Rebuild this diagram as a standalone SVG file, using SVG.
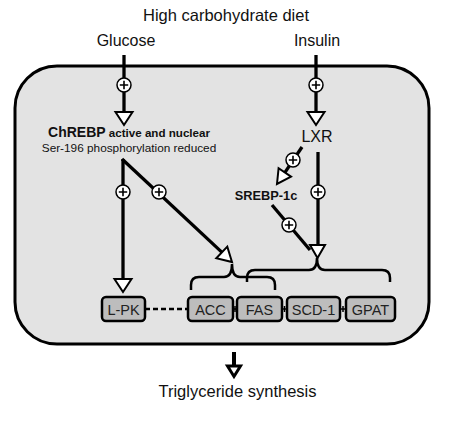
<svg xmlns="http://www.w3.org/2000/svg" width="453" height="423" viewBox="0 0 453 423">
<style>
.t{font-family:"Liberation Sans",Arial,sans-serif;fill:#111}
.ln{stroke:#000;stroke-width:3.3;fill:none;stroke-linecap:butt}
.ah{fill:#fff;stroke:#000;stroke-width:2;stroke-linejoin:miter}
.pc{fill:#fff;stroke:#000;stroke-width:1.5}
.pl{stroke:#000;stroke-width:1.6}
.box{fill:#bdbdbd;stroke:#000;stroke-width:2.5}
.bt{font-family:"Liberation Sans",Arial,sans-serif;font-size:14.5px;fill:#222;text-anchor:middle}
</style>
<defs>
<g id="plus"><circle r="7" class="pc"/><path d="M-4.2,0H4.2M0,-4.2V4.2" class="pl"/></g>
</defs>
<rect id="cell" x="15" y="66" width="414" height="278" rx="42" fill="#e3e3e3" stroke="#000" stroke-width="3"/>
<text class="t" x="226" y="21" font-size="16.5" text-anchor="middle">High carbohydrate diet</text>
<g id="glucose"><text class="t" x="126" y="46" font-size="16" text-anchor="middle">Glucose</text></g>
<g id="insulin"><text class="t" x="317" y="46" font-size="16" text-anchor="middle">Insulin</text></g>
<g id="chrebp"><text class="t" x="129" y="137" font-weight="bold" text-anchor="middle"><tspan font-size="14">ChREBP</tspan><tspan font-size="11.6"> active and nuclear</tspan></text>
<text class="t" x="129" y="152" font-size="11.8" text-anchor="middle">Ser-196 phosphorylation reduced</text></g>
<g id="lxr"><text class="t" x="317" y="142" font-size="16" text-anchor="middle">LXR</text></g>
<g id="srebp"><text class="t" x="266" y="200" font-size="12.8" font-weight="bold" text-anchor="middle">SREBP-1c</text></g>
<g id="connectors">
<path class="ln" d="M124,55V112"/>
<polygon class="ah" points="115.5,112 132.5,112 124,125"/>
<use href="#plus" x="124" y="85"/>
<path class="ln" d="M316,55V112"/>
<polygon class="ah" points="307.5,112 324.5,112 316,125"/>
<use href="#plus" x="316" y="85"/>
<path class="ln" d="M123,159V279"/>
<polygon class="ah" points="114.5,279 131.5,279 123,292"/>
<use href="#plus" x="123" y="192"/>
<path class="ln" d="M122,159L222,252.4"/>
<polygon class="ah" points="216.3,258.2 227.3,246.6 232,262"/>
<use href="#plus" x="159" y="192"/>
<path class="ln" d="M318,152V246"/>
<path class="ln" d="M272,205L310,250"/>
<polygon class="ah" points="310,245 325,245 317.5,258"/>
<use href="#plus" x="318" y="192"/>
<use href="#plus" x="289" y="225"/>
<path class="ln" d="M302,147L285,172.4"/>
<polygon class="ah" points="291,176.6 278.6,168.2 277,184"/>
<use href="#plus" x="293" y="160"/>
<path d="M191,290V285Q191,277 199,277H224Q232,277 232,264Q232,277 240,277H267Q275,277 275,285V290" fill="none" stroke="#000" stroke-width="2.5"/>
<path d="M247,282V278Q247,270 255,270H309Q317,270 317,258Q317,270 325,270H382Q390,270 390,278V282" fill="none" stroke="#000" stroke-width="2.5"/>
<path d="M145,309H188" stroke="#000" stroke-width="2.5" stroke-dasharray="5,3"/>
<path d="M233,309H237M235,306V312M282,309H287M284.5,306V312M340,309H346M343,306V312" stroke="#000" stroke-width="1.5"/>
<path d="M234,352V366" stroke="#000" stroke-width="4"/>
<polygon points="227.5,366 240.5,366 234,376.5" fill="#fff" stroke="#000" stroke-width="3"/>
</g>
<g id="lpk"><rect class="box" x="102" y="297" width="43" height="24" rx="4"/><text class="bt" x="123.5" y="314.5">L-PK</text></g>
<g id="acc"><rect class="box" x="188" y="297" width="45" height="24" rx="4"/><text class="bt" x="210.5" y="314.5">ACC</text></g>
<g id="fas"><rect class="box" x="237" y="297" width="45" height="24" rx="4"/><text class="bt" x="259.5" y="314.5">FAS</text></g>
<g id="scd1"><rect class="box" x="287" y="297" width="53" height="24" rx="4"/><text class="bt" x="313.5" y="314.5">SCD-1</text></g>
<g id="gpat"><rect class="box" x="346" y="297" width="49" height="24" rx="4"/><text class="bt" x="370.5" y="314.5">GPAT</text></g>
<g id="tg"><text class="t" x="237.5" y="397" font-size="16.5" text-anchor="middle">Triglyceride synthesis</text></g>
</svg>
